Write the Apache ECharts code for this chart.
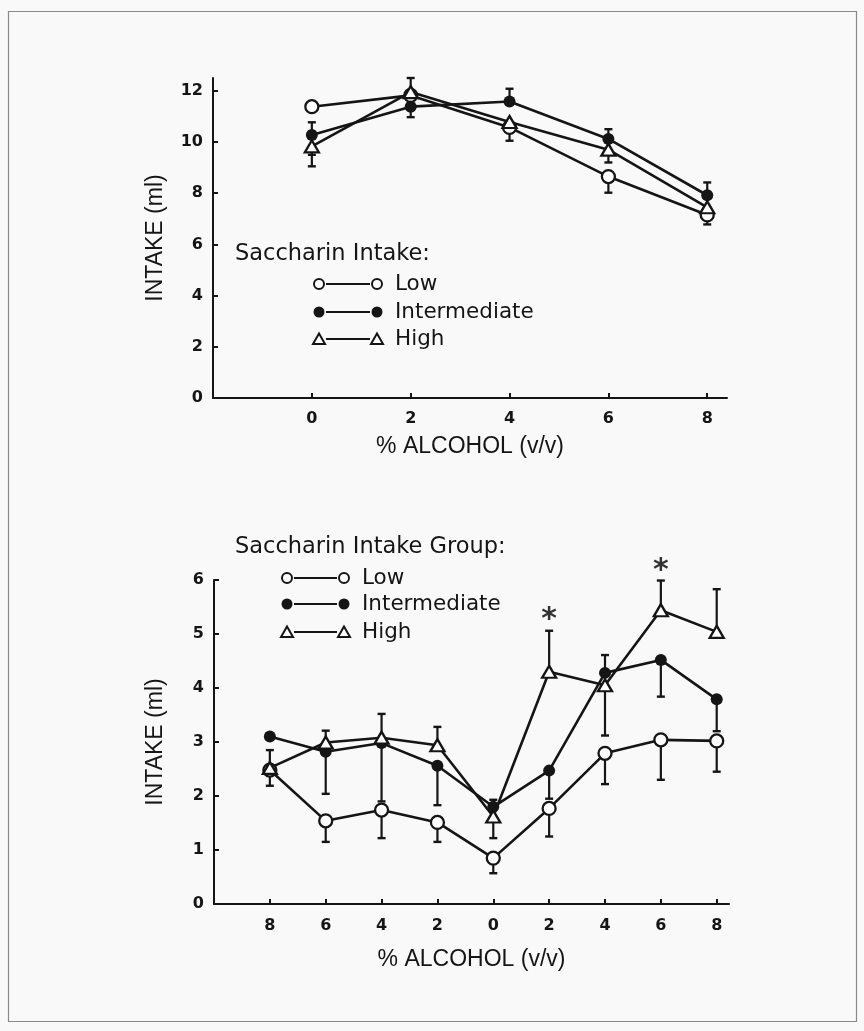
<!DOCTYPE html>
<html>
<head>
<meta charset="utf-8">
<script src="https://cdn.jsdelivr.net/npm/echarts@6/dist/echarts.min.js"></script>
<style>
  html, body { margin: 0; padding: 0; background: #f9f9f9; }
  #chart { width: 864px; height: 1031px; }
</style>
</head>
<body>
<div id="chart"></div>
<script>
// ---- Upper panel: intake by alcohol concentration ----
const topDoses = [0, 2, 4, 6, 8];
const topLow  = [11.38, 11.82, 10.57, 8.65, 7.15];
const topInt  = [10.27, 11.38, 11.58, 10.12, 7.92];
const topHigh = [9.83, 11.95, 10.78, 9.70, 7.45];
// error-bar ends (null = that side not drawn)
const topLowUpper  = [null, null, null, null, null];
const topLowLower  = [null, null, 10.05, 8.02, 6.78];
const topIntUpper  = [10.77, null, 12.08, 10.50, 8.42];
const topIntLower  = [9.50, 10.97, null, null, null];
const topHighUpper = [null, 12.50, null, null, null];
const topHighLower = [9.05, null, null, 9.20, null];
const topYTicks = [0, 2, 4, 6, 8, 10, 12];

// ---- Lower panel: descending then ascending concentrations ----
const bottomLabels = ['8', '6', '4', '2', '0', '2', '4', '6', '8'];
const bottomPos = [0, 1, 2, 3, 4, 5, 6, 7, 8];
const bottomLow  = [2.48, 1.54, 1.74, 1.51, 0.85, 1.77, 2.79, 3.04, 3.02];
const bottomInt  = [3.10, 2.82, 2.98, 2.56, 1.80, 2.47, 4.28, 4.52, 3.79];
const bottomHigh = [2.52, 2.99, 3.08, 2.94, 1.62, 4.30, 4.05, 5.44, 5.04];
const bottomLowUpper  = [null, null, null, null, null, null, null, null, null];
const bottomLowLower  = [2.19, 1.15, 1.22, 1.15, 0.57, 1.25, 2.22, 2.30, 2.45];
const bottomIntUpper  = [null, null, null, null, 1.93, null, 4.61, null, null];
const bottomIntLower  = [null, 2.04, 1.90, 1.83, null, 1.95, null, 3.84, 3.20];
const bottomHighUpper = [2.85, 3.21, 3.52, 3.28, null, 5.06, null, 5.99, 5.83];
const bottomHighLower = [null, null, null, null, 1.22, null, 3.12, null, null];
// significant differences (position index, height of the asterisk)
const sigPos = [5, 7];
const sigY   = [5.40, 6.32];

const INK = '#151515';
const TICK_FONT = 'DejaVu Sans';
const NAME_FONT = 'Liberation Sans';
const LEGEND_FONT = 'DejaVu Sans';

function errorBars(xi, yi, xs, mid, upper, lower) {
  return {
    type: 'custom', xAxisIndex: xi, yAxisIndex: yi, z: 1, silent: true,
    data: xs.map((x, i) => [x, mid[i]]),
    renderItem(params, api) {
      const i = params.dataIndex;
      const x = api.value(0), m = api.value(1);
      const c = api.coord([x, m]);
      const kids = [];
      [upper[i], lower[i]].forEach(end => {
        if (end == null) return;
        const e = api.coord([x, end]);
        kids.push({ type: 'line', shape: { x1: c[0], y1: c[1], x2: e[0], y2: e[1] },
                    style: { stroke: INK, lineWidth: 2.2 } });
        kids.push({ type: 'line', shape: { x1: e[0] - 4, y1: e[1], x2: e[0] + 4, y2: e[1] },
                    style: { stroke: INK, lineWidth: 2.4 } });
      });
      return { type: 'group', children: kids };
    }
  };
}

function lineSeries(xi, yi, xs, ys, kind) {
  const s = {
    type: 'line', xAxisIndex: xi, yAxisIndex: yi, z: 3,
    data: xs.map((x, i) => [x, ys[i]]),
    lineStyle: { color: INK, width: 2.6 },
    emphasis: { disabled: true },
    clip: false
  };
  if (kind === 'low') {
    s.symbol = 'circle'; s.symbolSize = 13;
    s.itemStyle = { color: '#fff', borderColor: INK, borderWidth: 2.3 };
  } else if (kind === 'int') {
    s.symbol = 'circle'; s.symbolSize = 12;
    s.itemStyle = { color: INK, borderColor: INK, borderWidth: 0 };
  } else {
    s.symbol = 'triangle'; s.symbolSize = [14, 12];
    s.itemStyle = { color: '#fff', borderColor: INK, borderWidth: 2.3 };
  }
  return s;
}

function axisCommon() {
  return {
    axisLine: { show: true, onZero: false, lineStyle: { color: INK, width: 2 } },
    splitLine: { show: false },
    nameTextStyle: { fontFamily: NAME_FONT, fontSize: 23, color: INK }
  };
}

function legendBlock(title, titleSize, tx, ty, rows, x1, x2, textX) {
  const els = [{
    type: 'text', x: tx, y: ty,
    style: { text: title, font: titleSize + 'px "' + LEGEND_FONT + '"', fill: INK, verticalAlign: 'middle' }
  }];
  rows.forEach(r => {
    const mk = (cx) => {
      if (r.kind === 'low') return { type: 'circle', shape: { cx, cy: r.y, r: 5 }, style: { fill: '#fff', stroke: INK, lineWidth: 2 } };
      if (r.kind === 'int') return { type: 'circle', shape: { cx, cy: r.y, r: 5.5 }, style: { fill: INK } };
      return { type: 'polygon', shape: { points: [[cx, r.y - 5.5], [cx - 6, r.y + 5], [cx + 6, r.y + 5]] },
               style: { fill: '#fff', stroke: INK, lineWidth: 2 } };
    };
    els.push({ type: 'line', shape: { x1: x1 + 7, y1: r.y, x2: x2 - 7, y2: r.y }, style: { stroke: INK, lineWidth: 2 } });
    els.push(mk(x1));
    els.push(mk(x2));
    els.push({ type: 'text', x: textX, y: r.y,
               style: { text: r.label, font: '21.5px "' + LEGEND_FONT + '"', fill: INK, verticalAlign: 'middle' } });
  });
  return els;
}

const chart = echarts.init(document.getElementById('chart'), null, { renderer: 'canvas' });

const tickLabel = { fontFamily: TICK_FONT, fontWeight: 'bold', fontSize: 16, color: INK };

const option = {
  backgroundColor: '#f9f9f9',
  animation: false,
  grid: [
    { left: 213, top: 78, width: 514, height: 320 },
    { left: 214, top: 580, width: 515, height: 324 }
  ],
  xAxis: [
    Object.assign(axisCommon(), {
      gridIndex: 0, type: 'value', min: -2, max: 8.4,
      axisTick: { show: true, inside: true, length: 5, lineStyle: { color: INK, width: 2 }, customValues: topDoses },
      axisLabel: Object.assign({ margin: 13, customValues: topDoses }, tickLabel),
      name: '% ALCOHOL (v/v)', nameLocation: 'middle', nameGap: 37
    }),
    Object.assign(axisCommon(), {
      gridIndex: 1, type: 'value', min: -1, max: 8.22,
      axisTick: { show: true, inside: true, length: 5, lineStyle: { color: INK, width: 2 }, customValues: bottomPos },
      axisLabel: Object.assign({ margin: 14, customValues: bottomPos, formatter: v => bottomLabels[v] }, tickLabel),
      name: '% ALCOHOL (v/v)', nameLocation: 'middle', nameGap: 44
    })
  ],
  yAxis: [
    Object.assign(axisCommon(), {
      gridIndex: 0, type: 'value', min: 0, max: 12.5,
      axisTick: { show: true, inside: true, length: 5, lineStyle: { color: INK, width: 2 }, customValues: topYTicks },
      axisLabel: Object.assign({ margin: 10, customValues: topYTicks }, tickLabel),
      name: 'INTAKE (ml)', nameLocation: 'middle', nameGap: 46
    }),
    Object.assign(axisCommon(), {
      gridIndex: 1, type: 'value', min: 0, max: 6, interval: 1,
      axisTick: { show: true, inside: true, length: 5, lineStyle: { color: INK, width: 2 } },
      axisLabel: Object.assign({ margin: 10 }, tickLabel),
      name: 'INTAKE (ml)', nameLocation: 'middle', nameGap: 47
    })
  ],
  series: [
    errorBars(0, 0, topDoses, topLow, topLowUpper, topLowLower),
    errorBars(0, 0, topDoses, topInt, topIntUpper, topIntLower),
    errorBars(0, 0, topDoses, topHigh, topHighUpper, topHighLower),
    lineSeries(0, 0, topDoses, topLow, 'low'),
    lineSeries(0, 0, topDoses, topInt, 'int'),
    lineSeries(0, 0, topDoses, topHigh, 'high'),

    errorBars(1, 1, bottomPos, bottomLow, bottomLowUpper, bottomLowLower),
    errorBars(1, 1, bottomPos, bottomInt, bottomIntUpper, bottomIntLower),
    errorBars(1, 1, bottomPos, bottomHigh, bottomHighUpper, bottomHighLower),
    lineSeries(1, 1, bottomPos, bottomLow, 'low'),
    lineSeries(1, 1, bottomPos, bottomInt, 'int'),
    lineSeries(1, 1, bottomPos, bottomHigh, 'high'),
    {
      type: 'scatter', xAxisIndex: 1, yAxisIndex: 1, clip: false, silent: true,
      data: sigPos.map((x, i) => [x, sigY[i]]),
      symbolSize: 1, itemStyle: { color: 'rgba(0,0,0,0)' },
      label: { show: true, position: 'inside', formatter: '*', offset: [0, 8],
               fontFamily: 'DejaVu Sans', fontWeight: 'bold', fontSize: 30, color: '#000' }
    }
  ],
  graphic: [
    { type: 'rect', z: -10, shape: { x: 8.5, y: 11.5, width: 848, height: 1010 },
      style: { fill: 'none', stroke: '#8a8a8a', lineWidth: 1.2 } }
  ].concat(
    legendBlock('Saccharin Intake:', 22.5, 235, 254, [
      { kind: 'low', label: 'Low', y: 284 },
      { kind: 'int', label: 'Intermediate', y: 312 },
      { kind: 'high', label: 'High', y: 339 }
    ], 319, 377, 395),
    legendBlock('Saccharin Intake Group:', 22.5, 235, 547, [
      { kind: 'low', label: 'Low', y: 578 },
      { kind: 'int', label: 'Intermediate', y: 604 },
      { kind: 'high', label: 'High', y: 632 }
    ], 287, 344, 362)
  )
};

chart.setOption(option);
</script>
</body>
</html>
